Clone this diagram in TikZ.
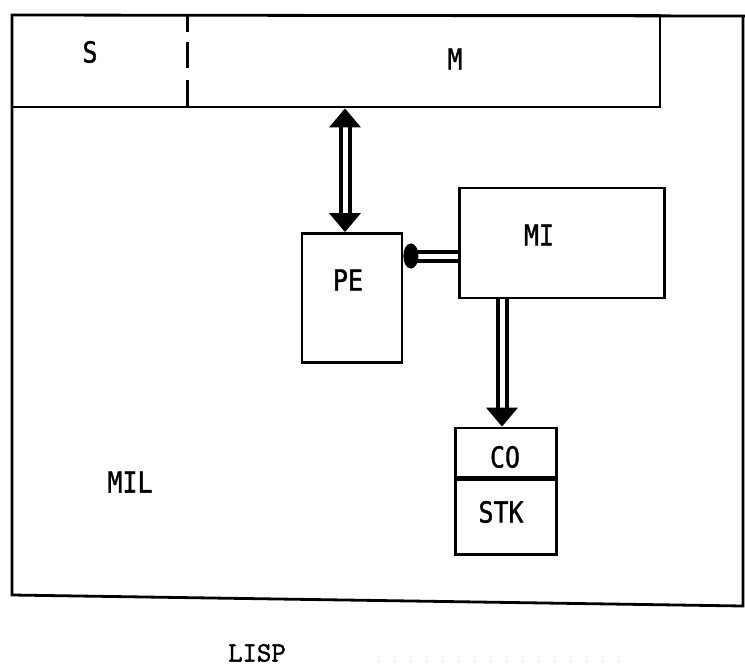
\documentclass[tikz,border=0pt]{standalone}
\usepackage{fontspec}
\newfontfamily\boxfont[FakeStretch=0.86,FakeBold=1.2]{DejaVu Sans Mono}
\newfontfamily\capfont[FakeBold=1.5]{Latin Modern Mono}
\usetikzlibrary{arrows.meta}
\tikzset{
  frame/.style={draw, line width=2.8pt, inner sep=0pt},
  tag/.style={font=\boxfont\fontsize{29}{29}\selectfont, inner sep=0pt},
  bus/.style={double, double distance=5pt, line width=4pt},
  bushead/.tip={Triangle[length=19pt,width=31pt]},
}

\begin{document}
\begin{tikzpicture}[x=1pt, y=-1pt]
  \useasboundingbox (0,0) rectangle (745,672);
  % outer frame of the machine
  \draw[line width=2.8pt, line join=miter] (745,16) -- (12,15) -- (12,595) -- (743,606) -- (743,16);
  % store band
  \node[frame, minimum width=648pt, minimum height=92pt] (band) at (336,61) {};
  \draw[line width=3pt, dash pattern=on 17pt off 10pt on 26pt off 12pt on 30pt off 5pt] (187,15) -- (187,106);
  \node[tag] (s) at (90,52) {S};
  \node[tag] (m) at (455,59) {M};
  % processing units
  \node[frame, minimum width=100pt, minimum height=129pt] (pe) at (352,298) {};
  \node[tag] at (348,280) {PE};
  \node[frame, minimum width=205pt, minimum height=110pt] (mi) at (562,243) {};
  \node[tag] at (539,235) {MI};
  \node[frame, minimum width=101pt, minimum height=49pt] (co) at (506,452.5) {};
  \node[tag] at (505,457) {CO};
  \node[frame, minimum width=101pt, minimum height=75pt, anchor=north] (stk) at (co.south) {};
  \node[tag] at (501,512) {STK};
  \node[tag] (mil) at (130,482) {MIL};
  % connectors
  \draw[bus, bushead-bushead] (pe.north -| 345,0) -- (band.south -| 345,0);
  \draw[bus, -{Circle[length=15pt,width=25pt]}] (mi.west |- 0,256) -- (pe.east |- 0,256);
  \draw[bus, -bushead] (mi.south -| 502,0) -- (co.north -| 502,0);
  \node[font=\capfont\fontsize{28}{28}\selectfont, inner sep=0pt] (lisp) at (257,653) {LISP};
  \draw[gray!50, line width=1pt, dash pattern=on 1pt off 15pt] (378,661) -- (622,661);
\end{tikzpicture}
\end{document}
